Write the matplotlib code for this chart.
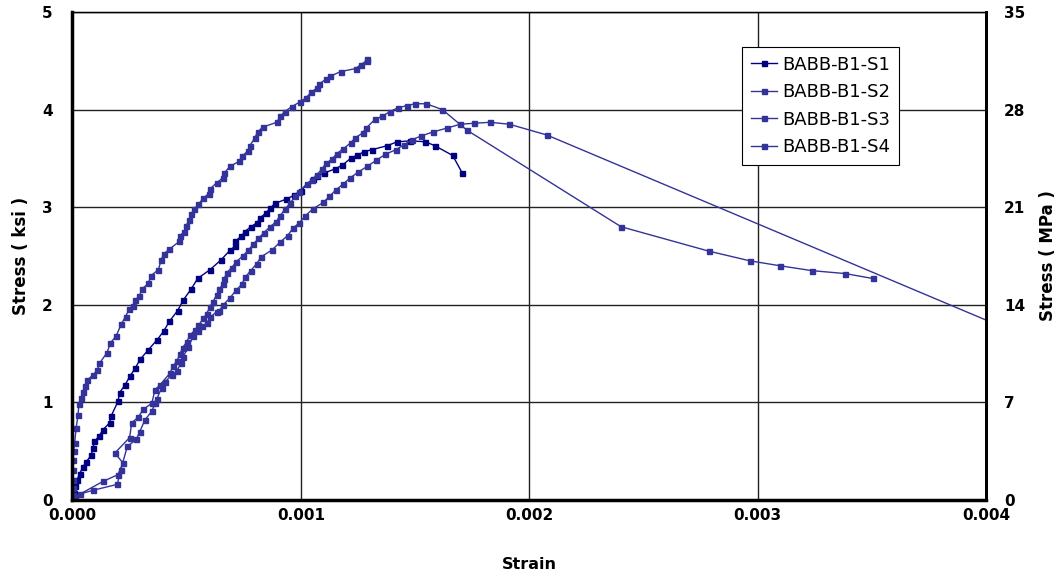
import matplotlib
matplotlib.use("Agg")
import matplotlib.pyplot as plt
import numpy as np

plt.rcParams['font.family'] = ['DejaVu Sans']

# ---- data (strain in units of 1e-3, stress in ksi) ----
s1_strain = [0, 0.007, 0.013, 0.022, 0.032, 0.047, 0.061, 0.083, 0.090, 0.097, 0.119, 0.134, 0.163, 0.170,
             0.200, 0.207, 0.231, 0.253, 0.275, 0.297, 0.333, 0.371, 0.400, 0.425, 0.461, 0.486, 0.520, 0.549,
             0.603, 0.651, 0.691, 0.712, 0.712, 0.739, 0.755, 0.782, 0.808, 0.822, 0.847, 0.866, 0.888, 0.934,
             0.969, 1.000, 1.054, 1.073, 1.102, 1.148, 1.182, 1.218, 1.245, 1.279, 1.313, 1.378, 1.422, 1.480,
             1.546, 1.587, 1.665, 1.707]
s1_stress = [0, 0.07, 0.14, 0.21, 0.27, 0.34, 0.39, 0.46, 0.53, 0.60, 0.66, 0.72, 0.79, 0.86,
             1.01, 1.10, 1.18, 1.27, 1.35, 1.44, 1.54, 1.64, 1.73, 1.83, 1.94, 2.05, 2.16, 2.27,
             2.36, 2.46, 2.56, 2.60, 2.65, 2.70, 2.75, 2.80, 2.84, 2.89, 2.94, 2.99, 3.04, 3.08,
             3.12, 3.17, 3.29, 3.32, 3.35, 3.39, 3.43, 3.50, 3.53, 3.57, 3.59, 3.63, 3.67, 3.68,
             3.67, 3.63, 3.53, 3.35]

s2_strain = [0, 0.001, 0.002, 0.002, 0.003, 0.004, 0.006, 0.010, 0.017, 0.025, 0.029, 0.036, 0.047, 0.054,
             0.066, 0.090, 0.109, 0.119, 0.152, 0.167, 0.192, 0.214, 0.233, 0.250, 0.265, 0.275, 0.294, 0.304,
             0.333, 0.345, 0.377, 0.389, 0.400, 0.425, 0.469, 0.473, 0.490, 0.498, 0.512, 0.520, 0.534, 0.552,
             0.573, 0.597, 0.604, 0.632, 0.658, 0.665, 0.691, 0.731, 0.742, 0.770, 0.777, 0.799, 0.811, 0.833,
             0.895, 0.910, 0.930, 0.961, 0.997, 1.022, 1.047, 1.070, 1.080, 1.109, 1.128, 1.175, 1.240, 1.262,
             1.288, 1.291]
s2_stress = [0, 0.05, 0.12, 0.21, 0.31, 0.41, 0.50, 0.58, 0.74, 0.87, 0.98, 1.04, 1.11, 1.17,
             1.23, 1.28, 1.33, 1.40, 1.51, 1.61, 1.68, 1.80, 1.88, 1.96, 1.99, 2.05, 2.09, 2.16,
             2.22, 2.30, 2.36, 2.46, 2.52, 2.57, 2.65, 2.71, 2.75, 2.81, 2.87, 2.93, 2.98, 3.03,
             3.09, 3.14, 3.19, 3.25, 3.30, 3.35, 3.42, 3.47, 3.52, 3.58, 3.63, 3.71, 3.77, 3.82,
             3.87, 3.93, 3.98, 4.03, 4.08, 4.12, 4.18, 4.22, 4.26, 4.31, 4.34, 4.39, 4.42, 4.46,
             4.50, 4.52]

s3_strain = [0, 0.010, 0.134, 0.200, 0.222, 0.186, 0.251, 0.260, 0.289, 0.311, 0.348, 0.362, 0.384, 0.428,
             0.440, 0.457, 0.472, 0.483, 0.501, 0.515, 0.537, 0.552, 0.574, 0.588, 0.603, 0.615, 0.632, 0.644,
             0.658, 0.664, 0.676, 0.698, 0.717, 0.746, 0.771, 0.792, 0.815, 0.839, 0.866, 0.892, 0.909, 0.931,
             0.953, 0.975, 0.994, 1.026, 1.048, 1.070, 1.092, 1.111, 1.136, 1.158, 1.187, 1.219, 1.238, 1.271,
             1.286, 1.325, 1.355, 1.391, 1.427, 1.464, 1.500, 1.549, 1.620, 1.727, 2.402, 2.786, 2.967, 3.098,
             3.237, 3.383, 3.503]
s3_stress = [0, 0.03, 0.19, 0.26, 0.38, 0.48, 0.64, 0.79, 0.85, 0.93, 0.99, 1.13, 1.18, 1.30,
             1.37, 1.42, 1.50, 1.56, 1.62, 1.69, 1.74, 1.79, 1.86, 1.91, 1.98, 2.03, 2.10, 2.16,
             2.21, 2.26, 2.33, 2.38, 2.44, 2.50, 2.56, 2.62, 2.68, 2.74, 2.80, 2.85, 2.91, 2.98,
             3.04, 3.11, 3.16, 3.24, 3.28, 3.33, 3.39, 3.45, 3.49, 3.55, 3.60, 3.66, 3.71, 3.76,
             3.81, 3.90, 3.93, 3.98, 4.02, 4.04, 4.06, 4.06, 4.00, 3.79, 2.80, 2.55, 2.45, 2.40,
             2.35, 2.32, 2.27]

s4_strain = [0, 0.032, 0.091, 0.197, 0.212, 0.241, 0.280, 0.295, 0.318, 0.348, 0.362, 0.369, 0.391, 0.406,
             0.435, 0.457, 0.475, 0.486, 0.508, 0.530, 0.552, 0.567, 0.588, 0.603, 0.632, 0.644, 0.661, 0.690,
             0.717, 0.742, 0.756, 0.781, 0.807, 0.826, 0.873, 0.909, 0.943, 0.968, 0.994, 1.019, 1.052, 1.099,
             1.125, 1.155, 1.187, 1.216, 1.252, 1.292, 1.330, 1.369, 1.417, 1.452, 1.486, 1.527, 1.578, 1.639,
             1.698, 1.759, 1.829, 1.913, 2.077, 4.500]
s4_stress = [0, 0.06, 0.10, 0.16, 0.31, 0.55, 0.62, 0.70, 0.82, 0.91, 0.99, 1.03, 1.15, 1.21,
             1.28, 1.32, 1.40, 1.47, 1.57, 1.68, 1.73, 1.78, 1.81, 1.87, 1.93, 1.94, 2.00, 2.07,
             2.15, 2.21, 2.28, 2.35, 2.42, 2.49, 2.56, 2.64, 2.71, 2.79, 2.84, 2.91, 2.98, 3.05,
             3.11, 3.18, 3.24, 3.30, 3.36, 3.42, 3.48, 3.54, 3.59, 3.64, 3.69, 3.73, 3.77, 3.81,
             3.85, 3.86, 3.87, 3.85, 3.74, 1.35]

series_names = ['BABB-B1-S1', 'BABB-B1-S2', 'BABB-B1-S3', 'BABB-B1-S4']
series_colors = ['#000080', '#333399', '#333399', '#333399']

x_ticks = [0.000, 0.001, 0.002, 0.003, 0.004]
y_ticks = [0, 1, 2, 3, 4, 5]
mpa_ticks = [0, 7, 14, 21, 28, 35]

# ---- figure ----
W, H = 1063, 578
fig = plt.figure(figsize=(W / 100, H / 100), dpi=100)
ax = fig.add_axes([72.3 / W, (H - 500) / H, (986.1 - 72.3) / W, (500 - 12) / H])

data = [(s1_strain, s1_stress), (s2_strain, s2_stress), (s3_strain, s3_stress), (s4_strain, s4_stress)]
for (sx, sy), name, col in zip(data, series_names, series_colors):
    ax.plot(np.array(sx) * 1e-3, sy, color=col, lw=1.0, marker='s', ms=3.6,
            mfc=col, mec=col, label=name, clip_on=True)

ax.set_xlim(0, 0.004)
ax.set_ylim(0, 5)
ax.set_xticks(x_ticks)
ax.set_xticklabels([f'{v:.3f}' for v in x_ticks])
ax.set_yticks(y_ticks)
ax.grid(True, color='#222222', lw=1.0)
ax.set_axisbelow(True)
ax.tick_params(axis='both', length=0, labelsize=11)
ax.tick_params(axis='x', pad=6)
ax.tick_params(axis='y', pad=14)
for lab in ax.get_xticklabels() + ax.get_yticklabels():
    lab.set_fontweight('bold')

ax.set_xlabel('Strain', fontsize=11.5, fontweight='bold', labelpad=24)
ax.set_ylabel('Stress ( ksi )', fontsize=12, fontweight='bold', labelpad=9)

ax.spines['left'].set_linewidth(2.5)
ax.spines['bottom'].set_linewidth(2.5)
ax.spines['right'].set_linewidth(2.0)
ax.spines['top'].set_linewidth(1.0)
for sp in ax.spines.values():
    sp.set_color('black')

ax2 = ax.twinx()
ax2.set_ylim(0, 35)
ax2.set_yticks(mpa_ticks)
ax2.tick_params(axis='y', length=0, labelsize=11, pad=13)
for lab in ax2.get_yticklabels():
    lab.set_fontweight('bold')
ax2.set_ylabel('Stress ( MPa )', fontsize=12, fontweight='bold', labelpad=10)
ax2.spines['right'].set_linewidth(2.0)

leg = ax.legend(loc='upper left', bbox_to_anchor=((741.7 - 72.3) / (986.1 - 72.3), (500 - 46.7) / 488),
                fontsize=13, frameon=True, fancybox=False, edgecolor='black', framealpha=1,
                handlelength=1.45, handletextpad=0.3, borderpad=0.5, labelspacing=0.52, borderaxespad=0)
leg.get_frame().set_linewidth(0.8)

fig.savefig('out.png', dpi=100)
